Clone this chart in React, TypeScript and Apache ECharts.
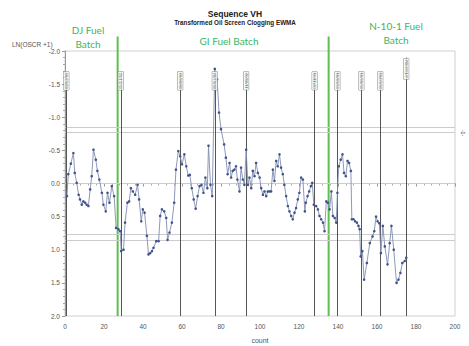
import React, { useEffect, useRef } from "react";
import * as echarts from "echarts";

const counts = [
  1.0, 1.7, 3.0, 4.3, 5.0, 6.0, 7.0, 7.7, 8.6, 9.4, 10.3, 11.1, 12.0, 12.9, 13.7, 14.6, 15.8, 16.6, 17.6, 18.9,
  19.7, 20.9, 21.8, 22.8, 24.0, 25.2, 26.2, 27.4, 28.3, 28.8, 30.0, 30.8, 32.0, 32.9, 33.8, 34.8, 36.0, 37.2, 38.0, 39.1,
  39.9, 40.8, 42.0, 42.8, 43.7, 44.6, 45.4, 46.8, 48.0, 48.8, 49.7, 50.9, 51.9, 52.6, 53.6, 54.8, 56.0, 56.9, 58.1, 59.1,
  60.0, 61.2, 62.2, 63.2, 64.0, 65.0, 66.0, 67.0, 68.0, 69.0, 70.0, 71.0, 72.0, 73.0, 73.6, 74.6, 75.5, 76.8, 78.0, 79.0,
  80.0, 81.6, 82.5, 83.4, 84.4, 85.2, 86.0, 86.9, 87.7, 88.4, 89.5, 90.3, 91.2, 92.0, 92.9, 93.8, 94.6, 95.5, 96.3, 97.2,
  98.0, 98.9, 99.8, 100.6, 101.5, 102.3, 103.2, 104.0, 104.9, 105.7, 106.6, 107.4, 108.3, 109.1, 110.0, 110.8, 111.7, 112.5, 113.4, 114.3,
  115.1, 116.0, 116.8, 117.7, 118.5, 119.4, 120.2, 121.1, 122.0, 123.0, 123.5, 124.4, 125.2, 126.1, 126.8, 127.6, 128.8, 129.7, 130.5, 131.4,
  132.3, 133.1, 134.0, 134.8, 135.7, 136.6, 137.4, 138.3, 139.1, 139.7, 140.4, 141.4, 142.3, 143.1, 144.0, 144.9, 145.7, 146.6, 147.1, 148.0,
  148.8, 149.7, 150.5, 151.1, 151.6, 152.5, 153.4, 154.8, 156.3, 157.7, 158.6, 159.5, 160.3, 161.2, 162.0, 163.0, 164.0, 165.4, 166.5, 167.4,
  168.6, 170.0, 171.0, 172.0, 173.0, 174.2, 175.0,
];

const values = [
  0.19, -0.14, -0.3, -0.46, -0.16, -0.01, 0.17, 0.24, 0.32, 0.27, 0.29, 0.32, 0.34, 0.09, -0.11, -0.51, -0.36, -0.19, -0.06, 0.14,
  0.32, 0.42, 0.14, 0.29, 0.04, 0.19, 0.67, 0.69, 0.72, 1.02, 1.0, 0.59, 0.29, 0.27, 0.07, 0.12, 0.17, 0.02, 0.24, 0.57,
  0.39, 0.44, 0.79, 1.07, 1.05, 1.02, 0.97, 0.87, 0.87, 0.49, 0.39, 0.42, 0.52, 0.85, 0.74, 0.59, 0.29, -0.21, -0.49, -0.41,
  -0.29, -0.44, -0.26, -0.12, -0.13, 0.07, 0.24, 0.38, 0.19, 0.04, 0.02, 0.14, -0.09, 0.07, -0.57, 0.02, 0.19, -1.73, -1.57, -1.07,
  -0.82, -0.59, -0.39, -0.14, -0.31, -0.09, -0.19, -0.21, -0.26, -0.06, 0.12, -0.24, -0.06, 0.02, -0.51, 0.02, -0.09, 0.07, -0.19, -0.11,
  -0.31, -0.16, -0.09, 0.07, 0.17, 0.12, 0.19, 0.12, 0.12, 0.12, -0.21, -0.04, -0.34, -0.26, -0.44, -0.24, -0.14, 0.02, 0.19, 0.34,
  0.42, 0.49, 0.54, 0.44, 0.37, 0.24, 0.14, -0.09, -0.06, 0.42, 0.29, 0.19, 0.12, 0.04, -0.01, 0.32, 0.34, 0.39, 0.49, 0.54,
  0.59, 0.72, 0.27, 0.29, 0.39, 0.12, 0.49, 0.52, 0.59, 0.14, -0.26, -0.36, -0.44, -0.16, -0.11, -0.34, -0.31, -0.19, 0.54, 0.54,
  0.57, 0.59, 0.64, 0.69, 1.1, 1.02, 1.45, 1.2, 0.9, 0.8, 0.72, 0.5, 0.57, 0.6, 1.05, 0.64, 0.95, 1.22, 0.9, 0.64,
  1.0, 1.5, 1.45, 1.35, 1.2, 1.17, 1.12,
];

// horizontal reference lines (limits and centre)
const limitLines = [-0.85, -0.77, 0, 0.77, 0.855];

// vertical event lines
const eventCounts = [0.7, 28.6, 59.1, 76.8, 92.9, 128, 139.7, 152, 161.7, 175];
const eventLabels = [
  "03/12/02", "05/21/02", "08/06/02", "09/17/02", "11/05/02",
  "02/11/03", "03/18/03", "05/06/03", "06/10/03", "4/15/2004",
];
const eventTops = [-1.68, -1.68, -1.68, -1.68, -1.68, -1.68, -1.68, -1.68, -1.68, -1.9];
const eventLabelY = [-1.55, -1.55, -1.55, -1.55, -1.55, -1.55, -1.55, -1.55, -1.55, -1.73];

// green fuel batch boundaries
const batchCounts = [27, 135.2];
const batchTop = -2.22;

const xMin = 0;
const xMax = 200;
const xInterval = 20;
const yMin = -2;
const yMax = 2;
const yInterval = 0.5;

export default function App() {
  const ref = useRef<HTMLDivElement>(null);

  useEffect(() => {
    if (!ref.current) return;
    const chart = echarts.init(ref.current, null, { renderer: "svg" });
    const green = "#5cbf4e";
    const greenText = "#3cb561";
    const font = "Liberation Sans, Arial, sans-serif";

    const batchSeries = batchCounts.map((c) => ({
      type: "line",
      data: [
        [c, batchTop],
        [c, yMax],
      ],
      symbol: "none",
      clip: false,
      silent: true,
      z: 3,
      lineStyle: { color: green, width: 2 },
    }));

    const option: any = {
      animation: false,
      backgroundColor: "#fff",
      title: {
        text: "Sequence VH",
        subtext: "Transformed Oil Screen Clogging EWMA",
        left: 230,
        textAlign: "center",
        top: 4,
        itemGap: 1,
        textStyle: { fontSize: 8.5, fontWeight: "bold", color: "#222", fontFamily: font },
        subtextStyle: { fontSize: 6.3, fontWeight: "bold", color: "#222", fontFamily: font },
      },
      grid: {
        left: 65,
        top: 51,
        width: 390,
        height: 265,
        outerBoundsMode: "none",
        containLabel: false,
        show: true,
        borderColor: "#d0d0d0",
        borderWidth: 1,
        backgroundColor: "transparent",
      },
      xAxis: {
        type: "value",
        min: xMin,
        max: xMax,
        interval: xInterval,
        name: "count",
        nameLocation: "middle",
        nameGap: 21,
        nameTextStyle: { fontSize: 7, color: "#555", fontFamily: font },
        axisLine: { show: true, lineStyle: { color: "#999" } },
        axisTick: { show: true, length: 3, lineStyle: { color: "#999" } },
        minorTick: { show: true, splitNumber: 5, length: 2, lineStyle: { color: "#aaa" } },
        splitLine: { show: false },
        axisLabel: { fontSize: 6.5, color: "#555", margin: 7, fontFamily: font },
      },
      yAxis: {
        type: "value",
        min: yMin,
        max: yMax,
        interval: yInterval,
        inverse: true,
        axisLine: { show: true, lineStyle: { color: "#999" } },
        axisTick: { show: true, length: 3, lineStyle: { color: "#999" } },
        minorTick: { show: true, splitNumber: 5, length: 2, lineStyle: { color: "#aaa" } },
        splitLine: { show: false },
        axisLabel: {
          fontSize: 6.5,
          color: "#555",
          margin: 5,
          fontFamily: font,
          formatter: (v: number) => v.toFixed(1),
        },
      },
      graphic: [
        { type: "text", left: 12, top: 41, style: { text: "LN(OSCR +1)", fontSize: 6.5, fill: "#555", fontFamily: font } },
        { type: "text", x: 88, y: 30, style: { text: "DJ Fuel", fontSize: 10, fill: greenText, fontFamily: "Lato", align: "center", verticalAlign: "middle" } },
        { type: "text", x: 88, y: 44, style: { text: "Batch", fontSize: 10, fill: greenText, fontFamily: "Lato", align: "center", verticalAlign: "middle" } },
        { type: "text", x: 229, y: 41, style: { text: "GI Fuel Batch", fontSize: 10, fill: greenText, fontFamily: "Lato", align: "center", verticalAlign: "middle" } },
        { type: "text", x: 396, y: 26, style: { text: "N-10-1 Fuel", fontSize: 10, fill: greenText, fontFamily: "Lato", align: "center", verticalAlign: "middle" } },
        { type: "text", x: 396, y: 40, style: { text: "Batch", fontSize: 10, fill: greenText, fontFamily: "Lato", align: "center", verticalAlign: "middle" } },
        { type: "text", x: 463, y: 133, rotation: -Math.PI / 2, style: { text: "-1-", fontSize: 5, fill: "#333", fontFamily: font, align: "center", verticalAlign: "middle" } },
      ],
      series: [
        {
          type: "line",
          data: [],
          silent: true,
          z: 1,
          markLine: {
            silent: true,
            symbol: "none",
            label: { show: false },
            lineStyle: { color: "#cccccc", width: 1.2, type: "solid" },
            data: limitLines.map((v) => ({ yAxis: v })),
          },
        },
        {
          type: "line",
          data: [],
          silent: true,
          z: 2,
          markLine: {
            silent: true,
            symbol: "none",
            label: { show: false },
            lineStyle: { color: "#555", width: 1, type: "solid" },
            data: eventCounts.map((c, i) => [
              { coord: [c, eventTops[i]] },
              { coord: [c, yMax] },
            ]),
          },
        },
        ...batchSeries,
        {
          type: "line",
          data: counts.map((c, i) => [c, values[i]]),
          symbol: "circle",
          symbolSize: 2.6,
          showSymbol: true,
          z: 5,
          lineStyle: { color: "#7f8db0", width: 0.9 },
          itemStyle: { color: "#42538a" },
        },
        {
          type: "scatter",
          data: eventCounts.map((c, i) => ({ value: [c, eventLabelY[i]], name: eventLabels[i] })),
          symbolSize: 0,
          silent: true,
          z: 6,
          label: {
            show: true,
            position: "inside",
            rotate: 90,
            formatter: (p: any) => p.name,
            fontSize: 4.2,
            color: "#333",
            fontFamily: font,
            backgroundColor: "#fff",
            borderColor: "#777",
            borderWidth: 0.5,
            padding: [0.5, 1],
          },
        },
      ],
    };

    chart.setOption(option);
    return () => chart.dispose();
  }, []);

  return <div ref={ref} style={{ width: 469, height: 346, position: "absolute", left: 0, top: 0 }} />;
}
